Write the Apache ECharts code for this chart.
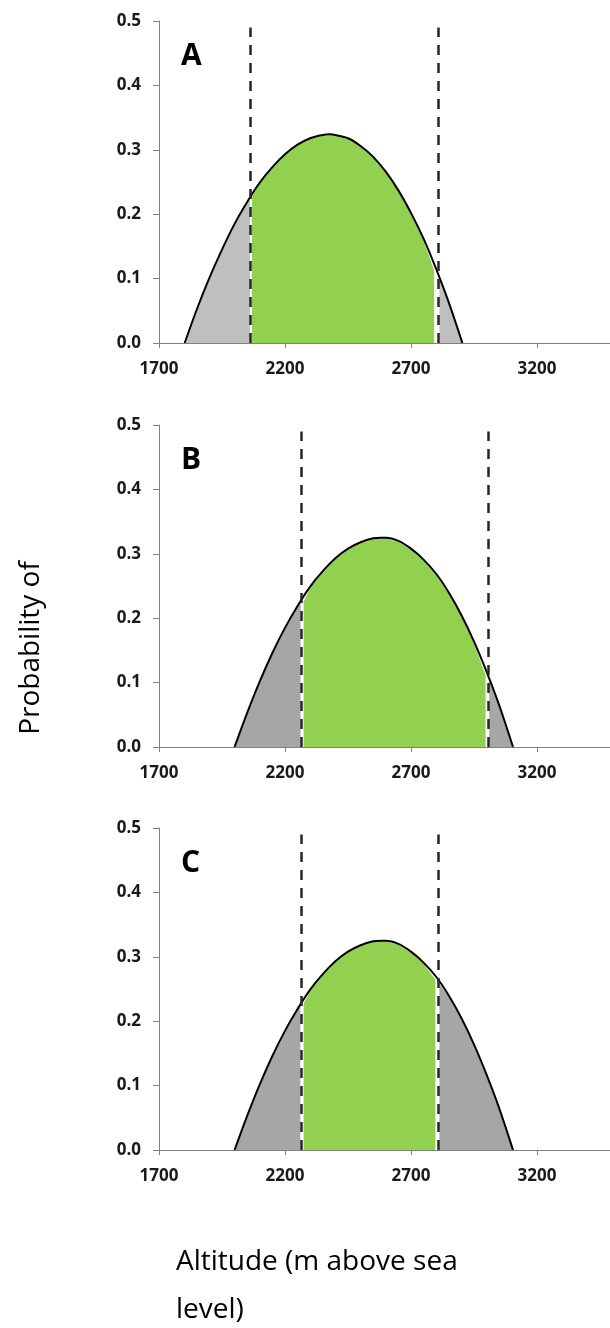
<!DOCTYPE html>
<html>
<head>
<meta charset="utf-8">
<script src="https://cdn.jsdelivr.net/npm/echarts@6/dist/echarts.min.js"></script>
<style>
html,body{margin:0;padding:0;background:#fff;}
#chart{width:610px;height:1328px;}
</style>
</head>
<body>
<div id="chart"></div>
<script>
// ---- data ----
const panelLabels = ['A', 'B', 'C'];
const xTickValues = [1700, 2200, 2700, 3200];

// Panel A curve
const altitudeA = [1802, 1850, 1900, 1950, 2000, 2050, 2100, 2150, 2200, 2250, 2300, 2350, 2377, 2400, 2450, 2500, 2550, 2600, 2650, 2700, 2750, 2800, 2850, 2904];
const probA     = [0.000, 0.052, 0.101, 0.145, 0.185, 0.219, 0.249, 0.273, 0.293, 0.308, 0.318, 0.323, 0.324, 0.323, 0.318, 0.306, 0.289, 0.266, 0.237, 0.202, 0.162, 0.115, 0.063, 0.000];
const dashA = [2064, 2810];
const dashProbA = [0.226, 0.108];
const greenA = [2066, 2795];
const greenProbA = [0.227, 0.113];

// Panel B and C curve
const altitudeBC = [2000, 2050, 2100, 2150, 2200, 2250, 2300, 2350, 2400, 2450, 2500, 2550, 2582, 2600, 2650, 2700, 2750, 2800, 2850, 2900, 2950, 3000, 3050, 3105];
const probBC     = [0.000, 0.053, 0.102, 0.146, 0.185, 0.219, 0.249, 0.273, 0.293, 0.308, 0.318, 0.324, 0.325, 0.325, 0.320, 0.308, 0.291, 0.269, 0.240, 0.205, 0.164, 0.117, 0.065, 0.000];
const dashB = [2265, 3008];
const dashProbB = [0.228, 0.110];
const greenB = [2271, 2999];
const greenProbB = [0.226, 0.112];

const dashC = [2264, 2810];
const dashProbC = [0.229, 0.262];
const greenC = [2271, 2800];
const greenProbC = [0.228, 0.265];

const dashTop = 0.49;

// ---- build ----
function pairs(xs, ys) { return xs.map((x, i) => [x, ys[i]]); }
function segment(xs, ys, x0, y0, x1, y1) {
  const pts = [[x0, 0], [x0, y0]];
  xs.forEach((x, i) => { if (x > x0 && x < x1) pts.push([x, ys[i]]); });
  pts.push([x1, y1], [x1, 0]);
  return pts;
}

const panels = [
  {xs: altitudeA, ys: probA, dash: dashA, dashP: dashProbA, green: greenA, greenP: greenProbA, gray: '#BFBFBF'},
  {xs: altitudeBC, ys: probBC, dash: dashB, dashP: dashProbB, green: greenB, greenP: greenProbB, gray: '#A6A6A6'},
  {xs: altitudeBC, ys: probBC, dash: dashC, dashP: dashProbC, green: greenC, greenP: greenProbC, gray: '#A6A6A6'}
];

const gridTops = [21, 425, 828];
const FONT = '"Open Sans", "Liberation Sans", sans-serif';

const grids = [], xAxes = [], yAxes = [], series = [], titles = [];
panels.forEach((p, i) => {
  grids.push({left: 159, top: gridTops[i], width: 451, height: 322, outerBoundsMode: 'none', containLabel: false});
  xAxes.push({
    type: 'value', gridIndex: i, min: 1700, max: 3490,
    splitLine: {show: false},
    axisLine: {show: true, onZero: false, lineStyle: {color: '#808080', width: 1}},
    axisTick: {show: true, length: 5, customValues: xTickValues, lineStyle: {color: '#808080'}},
    axisLabel: {customValues: xTickValues, margin: 18, color: '#1a1a1a', fontFamily: FONT, fontWeight: 'bold', fontSize: 17,
      formatter: v => String(v)}
  });
  yAxes.push({
    type: 'value', gridIndex: i, min: 0, max: 0.5, interval: 0.1,
    splitLine: {show: false},
    axisLine: {show: true, lineStyle: {color: '#808080', width: 1}},
    axisTick: {show: true, length: 6, lineStyle: {color: '#808080'}},
    axisLabel: {margin: 18, color: '#1a1a1a', fontFamily: FONT, fontWeight: 'bold', fontSize: 17,
      formatter: v => v.toFixed(1)}
  });
  const common = {type: 'line', xAxisIndex: i, yAxisIndex: i, showSymbol: false, symbol: 'none', silent: true, animation: false};
  const first = p.xs[0], last = p.xs[p.xs.length - 1];
  series.push(Object.assign({}, common, {
    data: segment(p.xs, p.ys, first, 0, p.dash[0], p.dashP[0]),
    lineStyle: {color: '#ffffff', width: 1.5}, areaStyle: {color: p.gray, opacity: 1}
  }));
  series.push(Object.assign({}, common, {
    data: segment(p.xs, p.ys, p.dash[1], p.dashP[1], last, 0),
    lineStyle: {color: '#ffffff', width: 1.5}, areaStyle: {color: p.gray, opacity: 1}
  }));
  series.push(Object.assign({}, common, {
    data: segment(p.xs, p.ys, p.green[0], p.greenP[0], p.green[1], p.greenP[1]),
    lineStyle: {color: '#ffffff', width: 1.5}, areaStyle: {color: '#92D050', opacity: 1}
  }));
  series.push(Object.assign({}, common, {
    data: pairs(p.xs, p.ys), smooth: 0.3,
    lineStyle: {color: '#000000', width: 2}, z: 3
  }));
  series.push(Object.assign({}, common, {
    data: [], z: 4,
    markLine: {
      silent: true, symbol: ['none', 'none'], animation: false,
      label: {show: false},
      lineStyle: {color: '#262626', width: 2.5, type: [10, 8]},
      data: p.dash.map(d => [{coord: [d, 0]}, {coord: [d, dashTop]}])
    }
  }));
  titles.push({text: panelLabels[i], left: 176, top: gridTops[i] + 15,
    textStyle: {fontFamily: FONT, fontWeight: 'bold', fontSize: 30, color: '#000'}});
});

const chart = echarts.init(document.getElementById('chart'), null, {renderer: 'canvas'});
chart.setOption({
  backgroundColor: '#ffffff',
  animation: false,
  title: titles,
  grid: grids,
  xAxis: xAxes,
  yAxis: yAxes,
  series: series,
  graphic: [
    {type: 'text', x: 31, y: 648, rotation: Math.PI / 2,
      style: {text: 'Probability of', font: '28px ' + FONT, fill: '#000', textAlign: 'center', textVerticalAlign: 'middle'}},
    {type: 'text', left: 176, top: 1238,
      style: {text: 'Altitude (m above sea\nlevel)', font: '28px ' + FONT, fill: '#000', lineHeight: 48}}
  ]
});
</script>
</body>
</html>
